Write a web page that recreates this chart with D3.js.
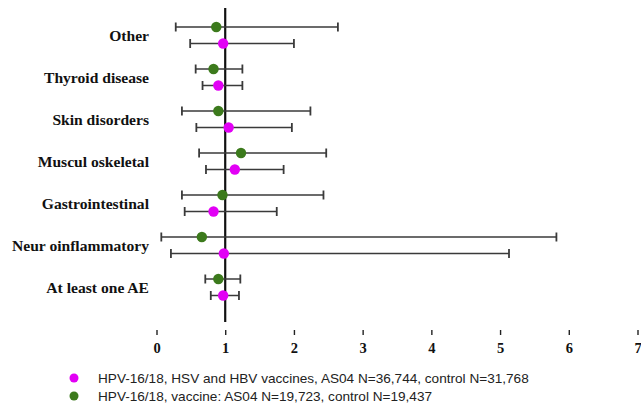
<!DOCTYPE html>
<html><head><meta charset="utf-8">
<script src="https://cdn.jsdelivr.net/npm/d3@7"></script>
<style>body{margin:0;background:#fff}svg{display:block}</style>
</head><body>
<svg id="c" width="641" height="407"></svg>
<script>
const categories = ["Other","Thyroid disease","Skin disorders","Muscul oskeletal","Gastrointestinal","Neur oinflammatory","At least one AE"];
// green series: HPV-16/18 vaccine AS04
const greenEst = [0.87,0.83,0.90,1.23,0.96,0.66,0.90];
const greenLow = [0.28,0.57,0.37,0.62,0.37,0.07,0.71];
const greenHigh= [2.64,1.25,2.24,2.47,2.43,5.82,1.22];
// pink series: HPV-16/18, HSV and HBV vaccines AS04
const pinkEst  = [0.97,0.90,1.05,1.14,0.83,0.98,0.97];
const pinkLow  = [0.49,0.67,0.58,0.72,0.41,0.21,0.79];
const pinkHigh = [2.00,1.25,1.97,1.85,1.75,5.13,1.20];
const xTicks = [0,1,2,3,4,5,6,7];
const legendLabels = ["HPV-16/18, HSV and HBV vaccines, AS04 N=36,744, control N=31,768","HPV-16/18, vaccine: AS04 N=19,723, control N=19,437"];

const PINK="#e200f5", GREEN="#3c7a1c", BAR="#3a3a3a";
const svg = d3.select("#c");
const x = d3.scaleLinear().domain([0,7]).range([156.5,637.5]);
const y = d3.scaleBand().domain(categories).range([14.5,308.5]);

const series = [
  {est:greenEst, low:greenLow, high:greenHigh, color:GREEN, off:-8.5},
  {est:pinkEst, low:pinkLow, high:pinkHigh, color:PINK, off:8}
];

// reference line at 1
svg.append("line").attr("x1",x(1)).attr("x2",x(1)).attr("y1",8).attr("y2",322)
  .attr("stroke","#111").attr("stroke-width",2.2);

series.forEach(s=>{
  const g = svg.append("g");
  categories.forEach((c,i)=>{
    const yy = y(c)+y.bandwidth()/2+s.off;
    g.append("line").attr("x1",x(s.low[i])).attr("x2",x(s.high[i])).attr("y1",yy).attr("y2",yy)
      .attr("stroke",BAR).attr("stroke-width",1.5);
    [s.low[i],s.high[i]].forEach(v=>{
      g.append("line").attr("x1",x(v)).attr("x2",x(v)).attr("y1",yy-4.5).attr("y2",yy+4.5)
        .attr("stroke",BAR).attr("stroke-width",1.8);
    });
  });
});
series.forEach(s=>{
  categories.forEach((c,i)=>{
    const yy = y(c)+y.bandwidth()/2+s.off;
    svg.append("circle").attr("cx",x(s.est[i])).attr("cy",yy).attr("r",5.2).attr("fill",s.color);
  });
});

// category labels
svg.append("g").selectAll("text").data(categories).join("text")
  .attr("x",149).attr("y",d=>y(d)+y.bandwidth()/2).attr("dy","0.35em")
  .attr("text-anchor","end").attr("font-family","'Liberation Serif', serif")
  .attr("font-weight","bold").attr("font-size",15.6).attr("fill","#111").text(d=>d);

// x axis ticks (no domain line)
const ax = svg.append("g").attr("transform","translate(0,330)")
  .call(d3.axisBottom(x).tickValues(xTicks).tickSize(5).tickPadding(8).tickFormat(d3.format("d")));
ax.select(".domain").remove();
ax.selectAll(".tick line").attr("stroke","#222").attr("stroke-width",1.4);
ax.selectAll(".tick text").attr("font-family","'Liberation Serif', serif").attr("font-weight","bold")
  .attr("font-size",14.5).attr("fill","#111");

// legend
const lg = svg.append("g");
[PINK,GREEN].forEach((col,i)=>{
  const ly = 378 + i*18;
  lg.append("circle").attr("cx",74).attr("cy",ly).attr("r",4.5).attr("fill",col);
  lg.append("text").attr("x",98).attr("y",ly).attr("dy","0.35em")
    .attr("font-family","'Liberation Sans', Arial, sans-serif").attr("font-size",13.6).attr("fill","#222")
    .text(legendLabels[i]);
});
</script>
</body></html>
